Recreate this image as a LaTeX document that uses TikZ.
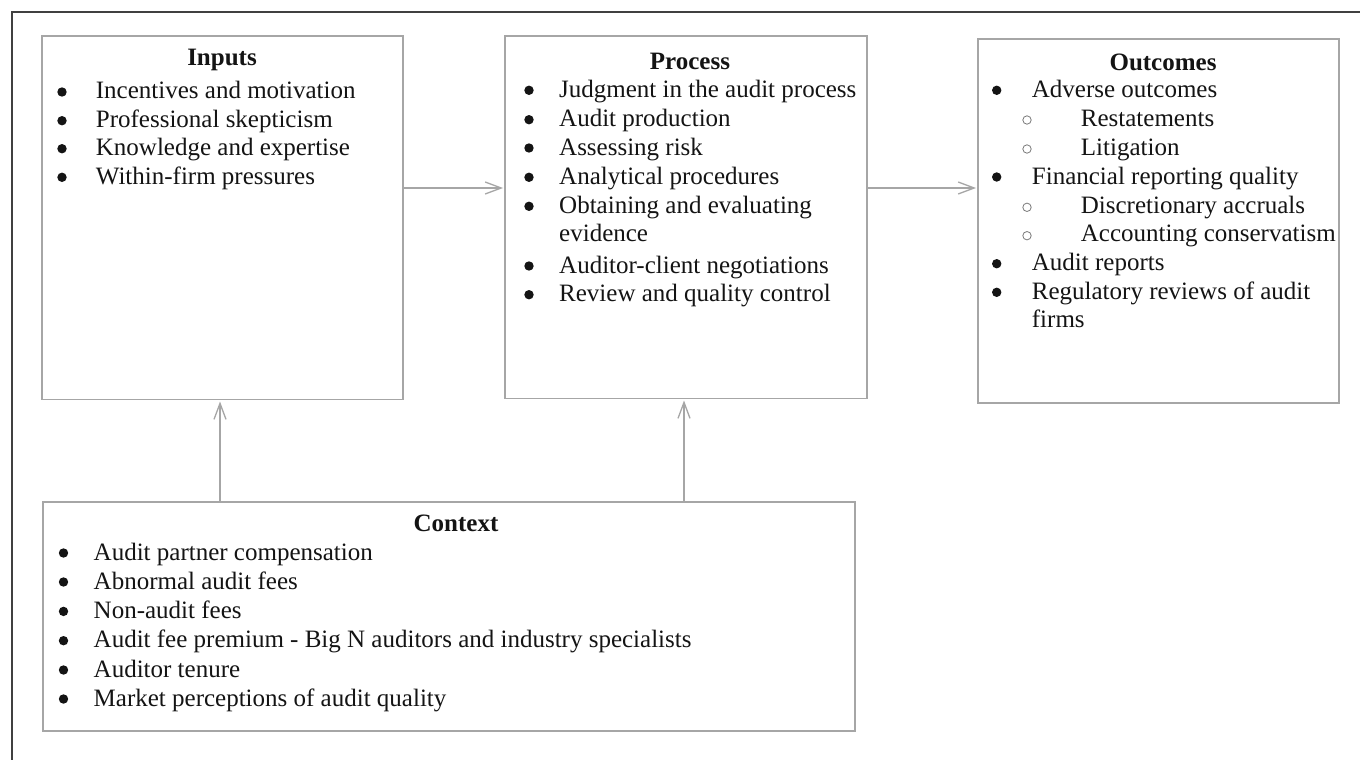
\documentclass[tikz,border=0pt]{standalone}
\usepackage{fontspec}
\setmainfont{Liberation Serif}
\usetikzlibrary{arrows.meta}
\definecolor{boxgray}{HTML}{A6A6A6}
\definecolor{framegray}{HTML}{404040}
\definecolor{inkblack}{HTML}{141414}
\definecolor{ringgray}{HTML}{7A7A7A}
\begin{document}
\begin{tikzpicture}[x=1pt,y=-1pt,
  panel/.style={draw=boxgray, line width=1.3pt, inner sep=0pt, outer sep=0pt, anchor=north west},
  heading/.style={font=\fontsize{25}{28}\selectfont\bfseries, text=inkblack, inner sep=0pt, anchor=base},
  item/.style={font=\fontsize{25}{28}\selectfont, text=inkblack, inner sep=0pt, anchor=base west},
  conn/.style={draw=boxgray, line width=1.3pt, -{Straight Barb[length=16pt,width=12pt,line width=1.3pt]}, shorten >=2pt},
  dot/.style={fill=inkblack},
  ring/.style={draw=ringgray, line width=0.8pt}
]
\useasboundingbox (0,0) rectangle (1360,760);
\fill[white] (0,0) rectangle (1360,760);
% outer frame (runs off the page on the right and bottom)
\draw[framegray, line width=1.5pt] (12,790) -- (12,12) -- (1390,12);

% panels
\node[panel, minimum width=361pt, minimum height=363.5pt] (inputs) at (42,36) {};
\node[panel, minimum width=362pt, minimum height=362.5pt] (process) at (505,36) {};
\node[panel, minimum width=361pt, minimum height=364pt] (outcomes) at (978,39) {};
\node[panel, minimum width=812pt, minimum height=229pt] (context) at (43,502) {};

% Inputs
\node[heading] (inT) at (222,65.7) {Inputs};
\foreach \t/\b [count=\i] in {Incentives and motivation/99,Professional skepticism/127.7,Knowledge and expertise/155.7,Within-firm pressures/184.3}{
  \fill[dot] (62,\b-7) circle[radius=4.7];
  \node[item] (in\i) at (95.7,\b) {\t};
}

% Process
\node[heading] (prT) at (690,69.3) {Process};
\foreach \t/\b [count=\i] in {Judgment in the audit process/97.3,Audit production/126.7,Assessing risk/155,Analytical procedures/184.3,Obtaining and evaluating/213.3,Auditor-client negotiations/273,Review and quality control/301.7}{
  \fill[dot] (529,\b-7) circle[radius=4.7];
  \node[item] (pr\i) at (559,\b) {\t};
}
\node[item] (pr5b) at (559,241.7) {evidence};

% Outcomes
\node[heading] (ouT) at (1163,70.7) {Outcomes};
\foreach \t/\b [count=\i] in {Adverse outcomes/97.3,Financial reporting quality/184,Audit reports/270.7,Regulatory reviews of audit/299.3}{
  \fill[dot] (996.7,\b-7) circle[radius=4.7];
  \node[item] (ou\i) at (1031.7,\b) {\t};
}
\node[item] (ou4b) at (1031.7,327.3) {firms};
\foreach \t/\b [count=\i] in {Restatements/126,Litigation/155,Discretionary accruals/213.3,Accounting conservatism/241.7}{
  \draw[ring] (1027,\b-6) circle[radius=4.2];
  \node[item] (os\i) at (1080.7,\b) {\t};
}

% Context
\node[heading] (coT) at (456,531) {Context};
\foreach \t/\b [count=\i] in {Audit partner compensation/560,Abnormal audit fees/589,Non-audit fees/618.4,Audit fee premium - Big N auditors and industry specialists/647.7,Auditor tenure/677,Market perceptions of audit quality/706}{
  \fill[dot] (63.5,\b-7) circle[radius=4.7];
  \node[item] (co\i) at (93.5,\b) {\t};
}

% connectors
\coordinate (rowA) at (0,188);
\coordinate (colA) at (220,0);
\coordinate (colB) at (684,0);
\draw[conn] (inputs.east |- rowA) -- (process.west |- rowA);
\draw[conn] (process.east |- rowA) -- (outcomes.west |- rowA);
\draw[conn] (context.north -| colA) -- (inputs.south -| colA);
\draw[conn] (context.north -| colB) -- (process.south -| colB);
\end{tikzpicture}
\end{document}
